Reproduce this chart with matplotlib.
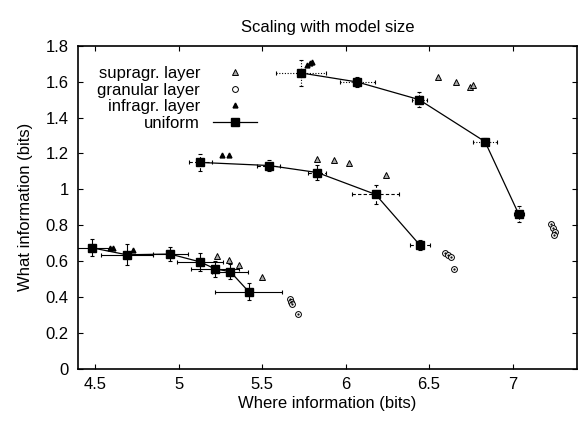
import numpy as np
import matplotlib
matplotlib.use("Agg")
import matplotlib.pyplot as plt
from matplotlib.ticker import FuncFormatter

plt.rcParams['font.family'] = ['Liberation Sans', 'DejaVu Sans']

# %% data
# uniform: three model sizes, each a connected curve
small_x = [4.48, 4.69, 4.95, 5.13, 5.22, 5.31, 5.42]
small_y = [0.675, 0.636, 0.640, 0.596, 0.557, 0.542, 0.431]
small_xerr = [0.11, 0.155, 0.105, 0.138, 0.145, 0.107, 0.20]
small_yerr = [0.048, 0.058, 0.04, 0.05, 0.045, 0.043, 0.047]

mid_x = [5.13, 5.54, 5.83, 6.18, 6.445]
mid_y = [1.15, 1.133, 1.094, 0.972, 0.690]
mid_xerr = [0.07, 0.07, 0.055, 0.14, 0.06]
mid_yerr = [0.045, 0.03, 0.04, 0.055, 0.03]

big_x = [5.735, 6.07, 6.44, 6.835, 7.037]
big_y = [1.648, 1.598, 1.50, 1.266, 0.862]
big_xerr = [0.15, 0.105, 0.045, 0.07, 0.03]
big_yerr = [0.07, 0.03, 0.04, 0.02, 0.043]

supra_x = [5.23, 5.30, 5.36, 5.50, 5.83, 5.93, 6.02, 6.24, 6.555, 6.66, 6.745, 6.765]
supra_y = [0.63, 0.605, 0.58, 0.514, 1.169, 1.161, 1.148, 1.081, 1.628, 1.60, 1.569, 1.582]

gran_x = [5.668, 5.674, 5.682, 5.716, 6.595, 6.615, 6.629, 6.649, 7.232, 7.244, 7.256, 7.25]
gran_y = [0.39, 0.375, 0.36, 0.305, 0.644, 0.635, 0.622, 0.557, 0.81, 0.787, 0.763, 0.747]

infra_x = [4.59, 4.61, 4.73, 5.26, 5.30, 5.77, 5.785, 5.80]
infra_y = [0.672, 0.671, 0.66, 1.189, 1.191, 1.695, 1.703, 1.71]

yticks = [0, 0.2, 0.4, 0.6, 0.8, 1, 1.2, 1.4, 1.6, 1.8]
xticks = [4.5, 5, 5.5, 6, 6.5, 7]

# %% figure
fig = plt.figure(figsize=(5.78, 4.22), dpi=100)
ax = fig.add_axes([0.1355, 0.1256, 0.8625, 0.7661])

# error bars, one line style per model size
for xs, ys, xe, ye, ls in [(small_x, small_y, small_xerr, small_yerr, '-'),
                           (mid_x, mid_y, mid_xerr, mid_yerr, (0, (3, 2))),
                           (big_x, big_y, big_xerr, big_yerr, (0, (1, 1.5)))]:
    eb = ax.errorbar(xs, ys, xerr=xe, yerr=ye, fmt='none', ecolor='black',
                     elinewidth=0.8, capsize=1.6, capthick=0.8, zorder=2)
    for lc in eb[2]:
        lc.set_linestyle(ls)

sup, = ax.plot(supra_x, supra_y, linestyle='None', marker='^', markersize=4.5,
               markerfacecolor='#a8a8a8', markeredgecolor='black',
               markeredgewidth=0.7, zorder=3)
gra, = ax.plot(gran_x, gran_y, linestyle='None', marker='o', markersize=4.2,
               markerfacecolor='white', markeredgecolor='black',
               markeredgewidth=0.7, zorder=3)
ax.plot(gran_x, gran_y, linestyle='None', marker='.', markersize=1.2,
        color='black', zorder=4)
inf, = ax.plot(infra_x, infra_y, linestyle='None', marker='^', markersize=3.5,
               color='black', zorder=3)

uni = None
for xs, ys in [(small_x, small_y), (mid_x, mid_y), (big_x, big_y)]:
    uni, = ax.plot(xs, ys, color='black', linewidth=0.9, marker='s',
                   markersize=5.5, zorder=5)

ax.set_xlim(4.4, 7.385)
ax.set_ylim(0, 1.8)
ax.set_xticks(xticks)
ax.set_yticks(yticks)
ax.xaxis.set_major_formatter(FuncFormatter(lambda v, p: f"{v:g}"))
ax.yaxis.set_major_formatter(FuncFormatter(lambda v, p: f"{v:g}"))
ax.tick_params(direction='in', length=3.6, width=0.8, top=True, right=True,
               labelsize=12)
ax.tick_params(axis='x', pad=6)
ax.tick_params(axis='y', pad=7)
for s in ax.spines.values():
    s.set_linewidth(1.2)

ax.set_title("Scaling with model size", fontsize=12, pad=10)
ax.set_xlabel("Where information (bits)", fontsize=12, labelpad=3)
ax.set_ylabel("What information (bits)", fontsize=12, labelpad=9)

ax.legend([sup, gra, inf, uni],
          ["supragr. layer", "granular layer", "infragr. layer", "uniform"],
          loc='upper right', bbox_to_anchor=(0.3724, 0.958), frameon=False,
          markerfirst=False, fontsize=12, handlelength=2.67, handletextpad=0.76,
          labelspacing=0.1, borderaxespad=0)

plt.savefig("out.png", dpi=100)
